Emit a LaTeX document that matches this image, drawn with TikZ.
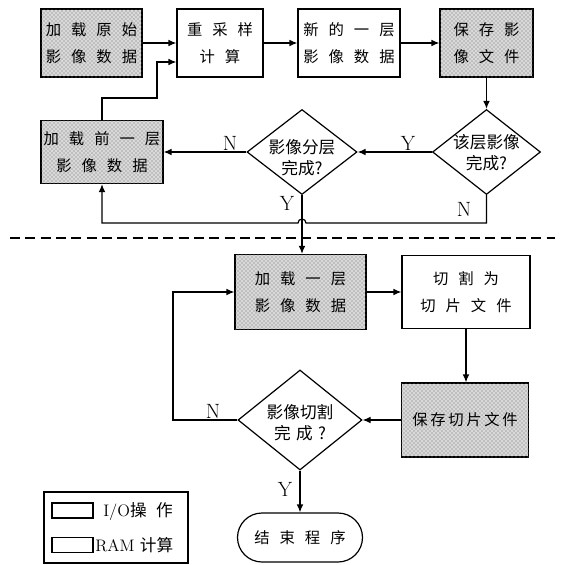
\documentclass[tikz,border=0pt]{standalone}
\usepackage{fontspec}
\newfontfamily\cjk{Noto Sans CJK SC}
\usetikzlibrary{shapes.geometric,shapes.misc,arrows.meta,patterns}
\newcommand{\gp}{\hspace{7.5pt}}
\newcommand{\boxfont}{\cjk\fontsize{11.5}{20}\selectfont}
\newcommand{\diafont}{\cjk\fontsize{12.5}{16}\selectfont}
\begin{document}
\begin{tikzpicture}[x=0.75pt,y=-0.75pt,
  lw/.style={line width=0.9pt},
  io/.style={lw, draw, fill=gray!30, postaction={pattern=crosshatch dots, pattern color=gray!85!black}, inner sep=0pt, font=\boxfont, align=center},
  ram/.style={lw, draw, fill=white, inner sep=0pt, font=\boxfont, align=center},
  dia/.style={lw, draw, diamond, inner sep=0pt},
  dtext/.style={font=\diafont, align=center, inner sep=0pt},
  arr/.style={lw, -{Latex[length=6pt,width=5pt]}},
  yn/.style={font=\fontsize{15.5}{17}\selectfont, inner sep=0pt},
  legbox/.style={lw, draw, inner sep=0pt, minimum width=30.75pt, minimum height=11.25pt}]
\useasboundingbox (0,0) rectangle (562,565);

% upper part
\node[io, minimum width=75.75pt, minimum height=51pt] (b1) at (91.5,43) {加\gp 载\gp 原\gp 始\\影\gp 像\gp 数\gp 据};
\node[ram, minimum width=64.5pt, minimum height=51pt] (b2) at (220,43) {重\gp 采\gp 样\\计\gp 算};
\node[ram, minimum width=76.5pt, minimum height=51pt] (b3) at (349,43) {新\gp 的\gp 一\gp 层\\影\gp 像\gp 数\gp 据};
\node[io, minimum width=69.75pt, minimum height=51pt] (b4) at (486.5,43) {保\gp 存\gp 影\\像\gp 文\gp 件};
\node[dia, minimum width=81pt, minimum height=63.75pt] (d1) at (486.5,152) {};
\node[dtext] (d1t) at (486.5,153) {该层影像\\完成?};
\node[dia, minimum width=82.5pt, minimum height=63.75pt] (d2) at (302,152) {};
\node[dtext] (d2t) at (302,158) {影像分层\\完成?};
\node[io, minimum width=91.5pt, minimum height=47.25pt] (b5) at (102,152) {加\gp 载\gp 前\gp 一\gp 层\\影\gp 像\gp 数\gp 据};

% dashed separator
\coordinate (s1) at (10,238);
\coordinate (s2) at (555,238);
\draw[line width=1.4pt, dash pattern=on 7.5pt off 4pt] (s1) -- (s2);

% lower part
\node[io, minimum width=98.25pt, minimum height=56.25pt] (b6) at (300.5,292) {加\gp 载\gp 一\gp 层\\影\gp 像\gp 数\gp 据};
\node[ram, minimum width=96pt, minimum height=54.75pt] (b7) at (466,292) {切\gp 割\gp 为\\切\gp 片\gp 文\gp 件};
\node[io, minimum width=95.25pt, minimum height=55.5pt] (b8) at (465,420) {保\hspace{2pt}存\hspace{2pt}切\hspace{2pt}片\hspace{2pt}文\hspace{2pt}件};
\node[dia, minimum width=93pt, minimum height=75pt] (d3) at (300,420) {};
\node[dtext] (d3t) at (300,423) {影像切割\\完\hspace{4pt}成\hspace{4pt}?};
\node[lw, draw, rounded rectangle, inner sep=0pt, minimum width=93.75pt, minimum height=36.75pt, font=\boxfont] (end) at (300,537.5) {结\gp 束\gp 程\gp 序};

% legend
\node[lw, draw, inner sep=0pt, minimum width=108pt, minimum height=53.25pt] (leg) at (116,527.5) {};
\node[legbox] (lg1) at (72.5,510.5) {};
\node[legbox] (lg2) at (72.5,545) {};
\node[anchor=west, inner sep=0pt, font=\fontsize{12.5}{14}\selectfont] (lt1) at (103,512) {I/O{\cjk 操\hspace{7pt}作}};
\node[anchor=west, inner sep=0pt, font=\fontsize{12.5}{14}\selectfont] (lt2) at (95,545) {RAM {\cjk 计算}};

% connectors upper
\draw[arr] (b1) -- (b2);
\draw[arr] (b2) -- (b3);
\draw[arr] (b3) -- (b4);
\draw[arr] (b4) -- (d1);
\draw[arr] (d1.west) -- (d2.east);
\draw[arr] (d2.west) -- (b5.east);
\coordinate (k1) at (306,223);
\coordinate (k2) at (157,98);
\coordinate (k3) at (0,62);
\draw[arr] (d1.south) |- (k1) arc[start angle=0, end angle=180, radius=3pt] -- (b5.south |- k1) -- (b5.south);
\draw[arr] (b5.north) |- (k2) |- (b2.west |- k3);
\draw[arr] (d2.south) -- (d2.south |- b6.north);

% connectors lower
\draw[arr] (b6) -- (b7);
\draw[arr] (b7.south) -- (b7.south |- b8.north);
\draw[arr] (b8.west) -- (d3.east);
\coordinate (k4) at (173,420);
\draw[arr] (d3.west) -- (k4) |- (b6.west);
\draw[arr] (d3.south) -- (end.north);

% Y/N labels
\node[yn] (l1) at (408,143) {Y};
\node[yn] (l2) at (230,143) {N};
\node[yn] (l3) at (464,209) {N};
\node[yn] (l4) at (287,203) {Y};
\node[yn] (l5) at (213,411) {N};
\node[yn] (l6) at (285,489) {Y};
\end{tikzpicture}
\end{document}
